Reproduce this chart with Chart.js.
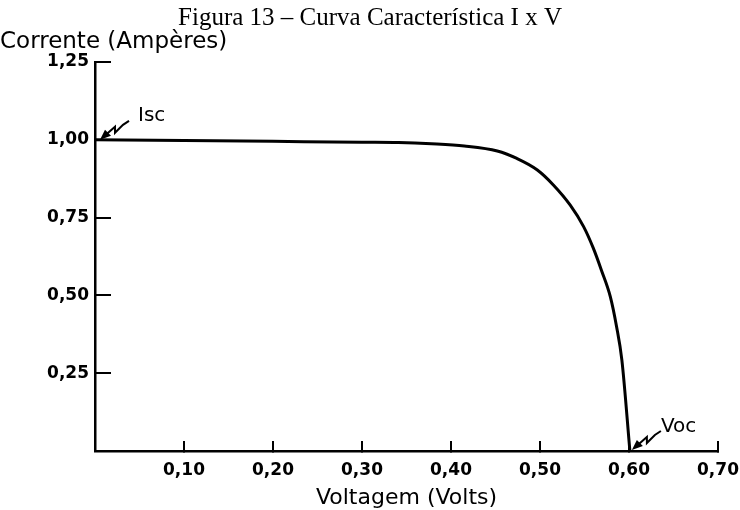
<!DOCTYPE html>
<html>
<head>
<meta charset="utf-8">
<script src="https://cdn.jsdelivr.net/npm/chart.js@4"></script>
<style>
  body { margin: 0; background: #fff; }
  #wrap { width: 740px; height: 510px; }
</style>
</head>
<body>
<div id="wrap"><canvas id="ivchart"></canvas></div>
<script>
// I x V curve
const voltage = [0, 0.10, 0.20, 0.30, 0.341, 0.378, 0.415, 0.452, 0.474, 0.497, 0.515, 0.534, 0.549, 0.560, 0.569, 0.579, 0.586, 0.592, 0.601];
const current = [1.00, 0.998, 0.995, 0.992, 0.991, 0.987, 0.980, 0.964, 0.940, 0.903, 0.855, 0.790, 0.721, 0.651, 0.581, 0.496, 0.400, 0.292, 0];
const xTicks = [0.10, 0.20, 0.30, 0.40, 0.50, 0.60, 0.70];
const yTicks = [0.25, 0.50, 0.75, 1.00, 1.25];

const fmt = v => v.toFixed(2).replace('.', ',');

// small hand-drawn style arrow, tip at (tx, ty) pointing down-left
function drawSquiggle(ctx, tx, ty) {
    ctx.beginPath();
    ctx.moveTo(tx, ty);
    ctx.lineTo(tx + 5, ty - 10);
    ctx.lineTo(tx + 11, ty - 4);
    ctx.closePath();
    ctx.fill();
    ctx.beginPath();
    ctx.moveTo(tx + 7, ty - 6);
    ctx.lineTo(tx + 15, ty - 13);
    ctx.lineTo(tx + 15, ty - 7);
    ctx.lineTo(tx + 23, ty - 15);
    ctx.lineTo(tx + 29, ty - 19);
    ctx.stroke();
}

const annotations = {
    id: 'annotations',
    afterDatasetsDraw(chart) {
        const { ctx, scales: { x, y } } = chart;
        const iscX = x.getPixelForValue(voltage[0]);
        const iscY = y.getPixelForValue(current[0]);
        const vocX = x.getPixelForValue(voltage[voltage.length - 1]);
        const vocY = y.getPixelForValue(current[current.length - 1]);
        ctx.save();
        ctx.strokeStyle = '#000';
        ctx.fillStyle = '#000';
        ctx.lineWidth = 2;
        drawSquiggle(ctx, iscX + 5, iscY);
        drawSquiggle(ctx, vocX + 2, vocY - 1);
        ctx.font = '20px "DejaVu Sans"';
        ctx.textBaseline = 'alphabetic';
        ctx.fillText('Isc', iscX + 43, iscY - 19);
        ctx.fillText('Voc', vocX + 31, vocY - 19);
        ctx.restore();
    }
};

const ctx = document.getElementById('ivchart').getContext('2d');
const myChart = new Chart(ctx, {
    type: 'line',
    data: {
        datasets: [{
            data: voltage.map((v, i) => ({ x: v, y: current[i] })),
            borderColor: '#000',
            borderWidth: 3,
            pointRadius: 0,
            fill: false,
            cubicInterpolationMode: 'monotone',
            clip: 6
        }]
    },
    options: {
        responsive: true,
        maintainAspectRatio: false,
        animation: false,
        layout: { padding: 0 },
        plugins: {
            legend: { display: false },
            tooltip: { enabled: false },
            title: {
                display: true,
                text: 'Figura 13 – Curva Característica I x V',
                color: '#000',
                font: { family: '"Liberation Serif", "Times New Roman", serif', size: 25, weight: 'normal', lineHeight: 1 },
                padding: { top: 6, bottom: 0 }
            },
            subtitle: {
                display: true,
                text: 'Corrente (Ampères)',
                align: 'start',
                color: '#000',
                font: { family: '"DejaVu Sans", sans-serif', size: 23, lineHeight: 1 },
                padding: { top: 0, bottom: 8 }
            }
        },
        scales: {
            x: {
                type: 'linear',
                min: 0,
                max: 0.7,
                afterBuildTicks: scale => { scale.ticks = xTicks.map(v => ({ value: v })); },
                afterFit: scale => {
                    scale.height = 59;
                    scale.paddingRight = 22;
                    scale.paddingLeft = 0;
                },
                border: { display: true, color: '#000', width: 2.5 },
                grid: { drawOnChartArea: false, drawTicks: true, tickLength: -10, color: '#000', lineWidth: 2 },
                ticks: {
                    color: '#000',
                    padding: 19,
                    maxRotation: 0,
                    font: { family: '"DejaVu Sans", sans-serif', size: 17, weight: 'bold' },
                    callback: v => fmt(v)
                },
                title: {
                    display: true,
                    text: 'Voltagem (Volts)',
                    color: '#000',
                    font: { family: '"DejaVu Sans", sans-serif', size: 22, lineHeight: 1 },
                    padding: { top: 6, bottom: 1 }
                }
            },
            y: {
                type: 'linear',
                min: 0,
                max: 1.25,
                afterBuildTicks: scale => { scale.ticks = yTicks.map(v => ({ value: v })); },
                afterFit: scale => { scale.width = 95; },
                border: { display: true, color: '#000', width: 2.5 },
                grid: { drawOnChartArea: false, drawTicks: true, tickLength: -16, color: '#000', lineWidth: 2 },
                ticks: {
                    color: '#000',
                    padding: 22,
                    font: { family: '"DejaVu Sans", sans-serif', size: 17, weight: 'bold' },
                    callback: v => fmt(v)
                }
            }
        }
    },
    plugins: [annotations]
});
</script>
</body>
</html>
